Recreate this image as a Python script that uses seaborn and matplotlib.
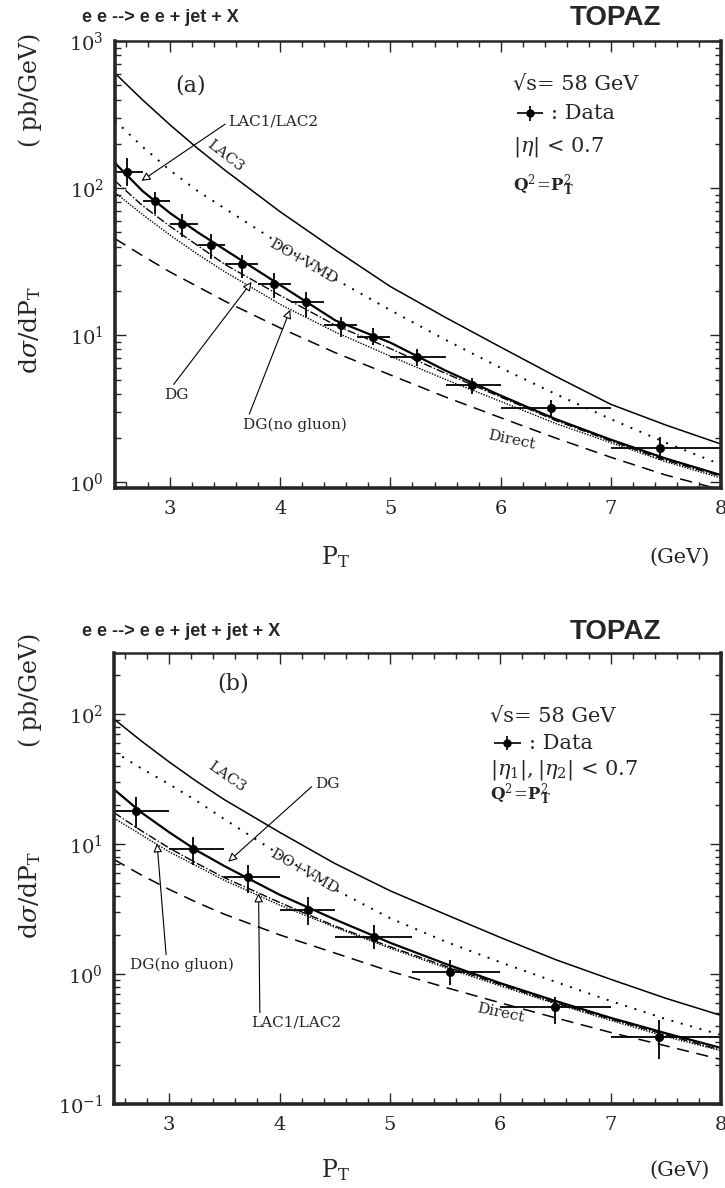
import numpy as np
import matplotlib
matplotlib.use("Agg")
import matplotlib.pyplot as plt
import seaborn as sns

# ---- panel (a): ee -> ee + jet + X
pt_grid = [2.5, 2.75, 3.0, 3.25, 3.5, 4.0, 4.5, 5.0, 5.5, 6.0, 6.5, 7.0, 7.5, 8.0]

a_lac3 = [603, 398, 269, 186, 132, 69, 38, 21.4, 13.2, 8.3, 5.25, 3.39, 2.45, 1.82]
a_dovmd = [288, 191, 132, 95.5, 72.4, 41.7, 24.0, 14.8, 9.3, 6.0, 3.98, 2.69, 1.86, 1.32]
a_lac12 = [148, 95.5, 67.6, 50.1, 38.0, 21.9, 12.6, 8.9, 5.75, 3.89, 2.69, 1.95, 1.45, 1.12]
a_dg = [112, 75.9, 55.0, 40.7, 30.2, 18.6, 11.7, 8.1, 5.5, 3.8, 2.63, 1.91, 1.41, 1.10]
a_dgng = [93.3, 66.1, 47.9, 35.5, 26.9, 16.2, 10.5, 7.2, 5.0, 3.55, 2.51, 1.86, 1.38, 1.07]
a_direct = [45.3, 34.7, 26.9, 21.4, 17.0, 11.2, 7.6, 5.37, 3.8, 2.75, 2.0, 1.48, 1.12, 0.89]

a_x = [2.61, 2.86, 3.11, 3.37, 3.65, 3.94, 4.23, 4.55, 4.84, 5.24, 5.74, 6.46, 7.45]
a_xlo = [2.5, 2.75, 3.0, 3.25, 3.5, 3.8, 4.1, 4.4, 4.7, 5.0, 5.5, 6.0, 7.0]
a_xhi = [2.75, 3.0, 3.25, 3.5, 3.8, 4.1, 4.4, 4.7, 5.0, 5.5, 6.0, 7.0, 8.0]
a_y = [128, 82, 56.6, 41.3, 30.3, 22.3, 16.8, 11.7, 9.8, 7.1, 4.58, 3.2, 1.72]
a_ylo = [104, 67, 46.6, 33, 24.3, 17.8, 13.4, 9.8, 8.6, 6.2, 3.98, 2.77, 1.41]
a_yhi = [160, 93.5, 67, 49, 35, 26.3, 19.8, 13.4, 11.2, 8.1, 5.15, 3.6, 2.03]

# ---- panel (b): ee -> ee + jet + jet + X
b_lac3 = [91.2, 61.7, 42.7, 30.2, 21.9, 12.3, 7.08, 4.37, 2.88, 1.91, 1.29, 0.91, 0.65, 0.48]
b_dovmd = [51.3, 38.0, 28.8, 21.4, 15.5, 8.3, 4.47, 2.69, 1.78, 1.23, 0.87, 0.62, 0.45, 0.34]
b_dg = [26.3, 17.4, 12.3, 8.9, 6.76, 4.07, 2.63, 1.74, 1.20, 0.85, 0.62, 0.46, 0.35, 0.27]
b_lac12 = [17.4, 12.6, 9.3, 7.1, 5.5, 3.55, 2.34, 1.62, 1.15, 0.83, 0.60, 0.45, 0.34, 0.26]
b_dgng = [15.8, 11.7, 8.7, 6.76, 5.25, 3.39, 2.29, 1.58, 1.12, 0.81, 0.59, 0.44, 0.33, 0.257]
b_direct = [7.6, 5.75, 4.47, 3.55, 2.88, 2.0, 1.45, 1.05, 0.79, 0.60, 0.46, 0.355, 0.28, 0.22]

b_x = [2.70, 3.22, 3.71, 4.26, 4.86, 5.54, 6.50, 7.44]
b_xlo = [2.5, 3.0, 3.5, 4.0, 4.5, 5.2, 6.0, 7.0]
b_xhi = [3.0, 3.5, 4.0, 4.5, 5.2, 6.0, 7.0, 8.0]
b_y = [18.0, 9.15, 5.6, 3.1, 1.94, 1.04, 0.56, 0.33]
b_ylo = [13.2, 6.9, 4.2, 2.38, 1.55, 0.82, 0.41, 0.22]
b_yhi = [23.1, 11.4, 6.9, 3.93, 2.4, 1.28, 0.67, 0.44]

sns.set_style("ticks")
plt.rcParams['font.family'] = ['DejaVu Serif']
plt.rcParams['mathtext.fontset'] = 'dejavuserif'

fig = plt.figure(figsize=(7.25, 11.88), dpi=100)
ax1 = fig.add_axes([115/725, 1-488/1188, 606/725, 447/1188])
ax2 = fig.add_axes([114/725, 1-1104/1188, 607/725, 451/1188])

styles = {
    'lac3': dict(color='black', lw=1.1, linestyle='-'),
    'dovmd': dict(color='black', lw=1.4, linestyle=(0, (1, 4))),
    'solid': dict(color='black', lw=1.6, linestyle='-'),
    'dashdot': dict(color='black', lw=1.0, linestyle=(0, (6, 1.5, 1, 1.5))),
    'dense': dict(color='black', lw=1.0, linestyle=(0, (1, 1))),
    'direct': dict(color='black', lw=1.1, linestyle=(0, (8, 5))),
}


def draw_curves(ax, curves):
    for vals, st in curves:
        sns.lineplot(x=pt_grid, y=vals, ax=ax, estimator=None, sort=False, **st)


def draw_data(ax, x, y, xlo, xhi, ylo, yhi):
    x = np.array(x); y = np.array(y)
    xerr = [x - np.array(xlo), np.array(xhi) - x]
    yerr = [y - np.array(ylo), np.array(yhi) - y]
    ax.errorbar(x, y, xerr=xerr, yerr=yerr, fmt='none', ecolor='black', elinewidth=1.3, capsize=0)
    sns.scatterplot(x=x, y=y, ax=ax, color='black', s=36, edgecolor='black', zorder=5)


def style_axis(ax, ylim, yticks):
    ax.set_yscale('log')
    ax.set_xlim(2.5, 8.0)
    ax.set_ylim(*ylim)
    ax.set_xticks([3, 4, 5, 6, 7, 8])
    ax.set_xticks(np.arange(2.6, 8.0, 0.2), minor=True)
    ax.set_yticks(yticks)
    ax.set_yticklabels([r'$10^{%d}$' % int(round(np.log10(t))) for t in yticks])
    ax.yaxis.set_minor_locator(matplotlib.ticker.LogLocator(base=10, subs=np.arange(2, 10)))
    ax.yaxis.set_minor_formatter(matplotlib.ticker.NullFormatter())
    ax.tick_params(which='both', direction='in', top=True, right=True, labelsize=14, width=1.0)
    ax.tick_params(which='major', length=8)
    ax.tick_params(which='minor', length=4)
    ax.tick_params(axis='x', pad=9)
    ax.tick_params(axis='y', pad=8)
    for side in ['left', 'bottom', 'right']:
        ax.spines[side].set_linewidth(2.6)
    ax.spines['top'].set_linewidth(1.8)
    ax.set_xlabel('')
    ax.set_ylabel('')


hollow = dict(arrowstyle='-|>', fc='white', ec='black', lw=0.8, mutation_scale=13, shrinkA=0, shrinkB=0)
lab = dict(fontsize=11, family='DejaVu Serif')

# ---------- (a)
draw_curves(ax1, [(a_lac3, styles['lac3']), (a_dovmd, styles['dovmd']), (a_lac12, styles['solid']),
                  (a_dg, styles['dashdot']), (a_dgng, styles['dense']), (a_direct, styles['direct'])])
draw_data(ax1, a_x, a_y, a_xlo, a_xhi, a_ylo, a_yhi)
style_axis(ax1, (0.915, 950), [1, 10, 100, 1000])

ax1.text(0.124, 0.90, '(a)', transform=ax1.transAxes, fontsize=16, ha='center', va='center')
ax1.annotate('LAC1/LAC2', xy=(2.74, 112), xytext=(3.53, 282), ha='left', va='center',
             arrowprops=dict(hollow, relpos=(0, 0.5)), **lab)
ax1.text(3.5, 166, 'LAC3', rotation=-38, ha='center', va='center', **lab)
ax1.text(4.21, 31.6, 'DO+VMD', rotation=-30, ha='center', va='center', **lab)
ax1.annotate('DG', xy=(3.74, 23), xytext=(2.943, 3.94), ha='left', va='center',
             arrowprops=dict(hollow, relpos=(0.3, 1.0)), **lab)
ax1.annotate('DG(no gluon)', xy=(4.09, 14.9), xytext=(3.66, 2.47), ha='left', va='center',
             arrowprops=dict(hollow, relpos=(0.05, 1.0)), **lab)
ax1.text(6.1, 1.95, 'Direct', rotation=-12, ha='center', va='center', **lab)

ax1.text(0.657, 0.903, '√s= 58 GeV', transform=ax1.transAxes, fontsize=15, ha='left', va='center')
ax1.errorbar([0.685], [0.838], xerr=[0.022], yerr=[0.016], transform=ax1.transAxes,
             fmt='o', color='black', ms=5, elinewidth=1.2)
ax1.text(0.72, 0.838, ': Data', transform=ax1.transAxes, fontsize=15, ha='left', va='center')
ax1.text(0.657, 0.762, r'$|\eta|$ < 0.7', transform=ax1.transAxes, fontsize=15, ha='left', va='center')
ax1.text(0.657, 0.677, r'$\mathbf{Q}^2\!=\!\mathbf{P}_{\mathbf{T}}^2$', transform=ax1.transAxes,
         fontsize=12, ha='left', va='center')

# ---------- (b)
draw_curves(ax2, [(b_lac3, styles['lac3']), (b_dovmd, styles['dovmd']), (b_dg, styles['solid']),
                  (b_lac12, styles['dashdot']), (b_dgng, styles['dense']), (b_direct, styles['direct'])])
draw_data(ax2, b_x, b_y, b_xlo, b_xhi, b_ylo, b_yhi)
style_axis(ax2, (0.1, 294), [0.1, 1, 10, 100])

ax2.text(0.197, 0.933, '(b)', transform=ax2.transAxes, fontsize=16, ha='center', va='center')
ax2.text(3.52, 33, 'LAC3', rotation=-35, ha='center', va='center', **lab)
ax2.annotate('DG', xy=(3.535, 7.3), xytext=(4.32, 29), ha='left', va='center',
             arrowprops=dict(hollow, relpos=(0, 0.5)), **lab)
ax2.text(4.22, 6.1, 'DO+VMD', rotation=-30, ha='center', va='center', **lab)
ax2.annotate('DG(no gluon)', xy=(2.89, 10.1), xytext=(2.645, 1.17), ha='left', va='center',
             arrowprops=dict(hollow, relpos=(0.35, 1.0)), **lab)
ax2.annotate('LAC1/LAC2', xy=(3.81, 4.17), xytext=(3.74, 0.42), ha='left', va='center',
             arrowprops=dict(hollow, relpos=(0.1, 1.0)), **lab)
ax2.text(6.0, 0.5, 'Direct', rotation=-12, ha='center', va='center', **lab)

ax2.text(0.62, 0.86, '√s= 58 GeV', transform=ax2.transAxes, fontsize=15, ha='left', va='center')
ax2.errorbar([0.648], [0.80], xerr=[0.022], yerr=[0.016], transform=ax2.transAxes,
             fmt='o', color='black', ms=5, elinewidth=1.2)
ax2.text(0.683, 0.80, ': Data', transform=ax2.transAxes, fontsize=15, ha='left', va='center')
ax2.text(0.62, 0.74, r'$|\eta_1|,|\eta_2|$ < 0.7', transform=ax2.transAxes, fontsize=15, ha='left', va='center')
ax2.text(0.62, 0.685, r'$\mathbf{Q}^2\!=\!\mathbf{P}_{\mathbf{T}}^2$', transform=ax2.transAxes,
         fontsize=12, ha='left', va='center')

# ---------- figure texts
sans = ['Liberation Sans Narrow', 'Liberation Sans', 'DejaVu Sans']
fig.text(82/725, 1-18/1188, 'e e --> e e + jet + X', family=sans, fontsize=13, fontweight='bold', va='center')
fig.text(615/725, 1-18/1188, 'TOPAZ', family=sans, fontsize=20, fontweight='bold', va='center', ha='center')
fig.text(82/725, 1-632/1188, 'e e --> e e + jet + jet + X', family=sans, fontsize=13, fontweight='bold', va='center')
fig.text(615/725, 1-632/1188, 'TOPAZ', family=sans, fontsize=20, fontweight='bold', va='center', ha='center')

for y_unit, y_lab in [(90, 330), (690, 895)]:
    fig.text(30/725, 1-y_unit/1188, '( pb/GeV)', rotation=90, fontsize=17, ha='center', va='center')
    fig.text(30/725, 1-y_lab/1188, r'd$\sigma$/dP$_\mathrm{T}$', rotation=90, fontsize=18, ha='center', va='center')

for y_x in [557, 1170]:
    fig.text(335/725, 1-y_x/1188, r'P$_\mathrm{T}$', fontsize=17, ha='center', va='center')
    fig.text(680/725, 1-y_x/1188, '(GeV)', fontsize=15, ha='center', va='center')

fig.savefig('out.png', dpi=100, facecolor='white')
